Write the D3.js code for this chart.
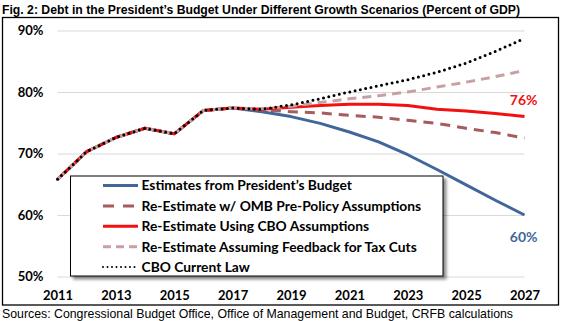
<!DOCTYPE html>
<html>
<head>
	<meta charset="utf-8">
	<title>debt scenarios</title>
	<script src="https://d3js.org/d3.v7.min.js"></script>
	<style>
		body { margin: 0; background: #fff; }
		svg { display: block; }
		.tick text { font-family: Lato, 'Open Sans', sans-serif; font-weight: 700; font-size: 13px; fill: #000; }
	</style>
</head>
<body>
	<svg width="569" height="321"></svg>
	<script type="text/javascript">

		// fiscal years and debt (% of GDP)
		var years = d3.range(2011, 2028);
		var actualDebt = [65.8, 70.3, 72.6, 74.1, 73.2, 77.0, 77.4];        // 2011-2017
		var presBudget = [76.8, 76.0, 74.9, 73.5, 71.9, 69.8, 67.4, 64.9, 62.4, 60.0];   // 2018-2027
		var ombPrePolicy = [77.1, 76.8, 76.6, 76.2, 75.9, 75.4, 74.9, 74.1, 73.4, 72.5];
		var cboAssump = [77.2, 77.5, 77.8, 78.0, 78.0, 77.8, 77.2, 76.9, 76.5, 76.0];
		var taxFeedback = [77.3, 77.7, 78.3, 78.9, 79.4, 80.0, 80.8, 81.6, 82.5, 83.5];
		var cboCurrentLaw = [77.2, 77.9, 78.9, 80.0, 81.0, 82.0, 83.2, 84.7, 86.6, 88.7];

		var seriesNames = [
			'Estimates from President\u2019s Budget',
			'Re-Estimate w/ OMB Pre-Policy Assumptions',
			'Re-Estimate Using CBO Assumptions',
			'Re-Estimate Assuming Feedback for Tax Cuts',
			'CBO Current Law'
		];
		var yTicks = [50, 60, 70, 80, 90];
		var xTicks = d3.range(2011, 2028, 2);

		// line styles, same order as seriesNames
		var styles = [
			{ color: '#41679a', width: 3, dash: null, cap: 'butt' },
			{ color: '#a65b5c', width: 3, dash: '10,7', cap: 'butt' },
			{ color: '#f21111', width: 3, dash: null, cap: 'butt' },
			{ color: '#c9a0a2', width: 3, dash: '9,6', cap: 'butt' },
			{ color: '#000', width: 3, dash: '0,5.4', cap: 'round' }
		];

		var projections = [presBudget, ombPrePolicy, cboAssump, taxFeedback, cboCurrentLaw];
		var series = projections.map(function (p, i) {
			var vals = actualDebt.concat(p);
			return { name: seriesNames[i], values: vals.map(function (v, j) { return { year: years[j], value: v }; }) };
		});

		var svg = d3.select('svg');

		var x = d3.scaleLinear().domain([2011, 2027]).range([57.5, 524.5]);
		var y = d3.scaleLinear().domain([50, 90]).range([276.5, 30.5]);

		// title
		svg.append('text')
			.attr('x', 2).attr('y', 13.5)
			.attr('font-family', 'Liberation Sans, Arial, sans-serif')
			.attr('font-weight', 700).attr('font-size', 13)
			.attr('textLength', 518).attr('lengthAdjust', 'spacingAndGlyphs')
			.text('Fig. 2: Debt in the President\u2019s Budget Under Different Growth Scenarios (Percent of GDP)');

		// frame
		svg.append('rect')
			.attr('x', 2.5).attr('y', 17.5).attr('width', 556).attr('height', 287.5)
			.attr('fill', 'none').attr('stroke', '#000').attr('stroke-width', 1.3);

		// y axis with gridlines
		svg.append('g')
			.attr('transform', 'translate(57.5,0)')
			.call(d3.axisLeft(y).tickValues(yTicks).tickSize(-(524.5 - 57.5)).tickPadding(14).tickFormat(function (d) { return d + '%'; }))
			.call(function (g) { g.select('.domain').remove(); })
			.call(function (g) { g.selectAll('.tick line').attr('stroke', '#d9d9d9').attr('stroke-width', 1); });

		// x axis labels
		svg.append('g')
			.attr('transform', 'translate(0,276.5)')
			.call(d3.axisBottom(x).tickValues(xTicks).tickSize(0).tickPadding(14).tickFormat(d3.format('d')))
			.call(function (g) { g.select('.domain').remove(); });

		var line = d3.line()
			.x(function (d) { return x(d.year); })
			.y(function (d) { return y(d.value); });

		svg.selectAll('.series')
			.data(series)
			.enter().append('path')
			.attr('class', 'series')
			.attr('d', function (d) { return line(d.values); })
			.attr('fill', 'none')
			.attr('stroke', function (d, i) { return styles[i].color; })
			.attr('stroke-width', function (d, i) { return styles[i].width; })
			.attr('stroke-dasharray', function (d, i) { return styles[i].dash; })
			.attr('stroke-linecap', function (d, i) { return styles[i].cap; })
			.attr('stroke-linejoin', 'round');

		// end labels
		var last = years.length - 1;
		svg.append('text')
			.attr('x', x(2027) + 13).attr('y', y(cboAssump[cboAssump.length - 1]) - 12)
			.attr('text-anchor', 'end')
			.attr('font-family', 'Lato, sans-serif').attr('font-weight', 700).attr('font-size', 14)
			.attr('fill', styles[2].color)
			.text(Math.round(series[2].values[last].value) + '%');
		svg.append('text')
			.attr('x', x(2027) + 13).attr('y', y(presBudget[presBudget.length - 1]) + 27)
			.attr('text-anchor', 'end')
			.attr('font-family', 'Lato, sans-serif').attr('font-weight', 700).attr('font-size', 14)
			.attr('fill', styles[0].color)
			.text(Math.round(series[0].values[last].value) + '%');

		// legend
		var defs = svg.append('defs');
		defs.append('filter').attr('id', 'shadow')
			.attr('x', '-10%').attr('y', '-10%').attr('width', '130%').attr('height', '130%')
			.append('feDropShadow')
			.attr('dx', 3).attr('dy', 3).attr('stdDeviation', 1.5)
			.attr('flood-color', '#000').attr('flood-opacity', 0.45);

		svg.append('rect')
			.attr('x', 70.5).attr('y', 176).attr('width', 372.5).attr('height', 100)
			.attr('fill', '#fff').attr('stroke', '#000').attr('stroke-width', 1)
			.attr('filter', 'url(#shadow)');

		var legend = svg.append('g')
			.selectAll('g')
			.data(seriesNames)
			.enter().append('g')
			.attr('transform', function (d, i) { return 'translate(0,' + (185.5 + i * 20.4) + ')'; });

		legend.append('line')
			.attr('x1', 103).attr('x2', 138)
			.attr('stroke', function (d, i) { return styles[i].color; })
			.attr('stroke-width', function (d, i) { return i == 4 ? 2 : styles[i].width; })
			.attr('stroke-dasharray', function (d, i) { return i == 1 ? '11,9' : (i == 3 ? '8,5' : (i == 4 ? '0,4.5' : null)); })
			.attr('stroke-linecap', function (d, i) { return styles[i].cap; });

		legend.append('text')
			.attr('x', 141.5).attr('y', 0).attr('dy', '0.35em')
			.attr('font-family', 'Lato, sans-serif').attr('font-weight', 700).attr('font-size', 13.8)
			.text(function (d) { return d; });

		// sources
		svg.append('text')
			.attr('x', 2).attr('y', 317.5)
			.attr('font-family', 'Liberation Sans, Arial, sans-serif').attr('font-size', 13)
			.attr('textLength', 511).attr('lengthAdjust', 'spacingAndGlyphs')
			.text('Sources: Congressional Budget Office, Office of Management and Budget, CRFB calculations');

	</script>
</body>
</html>
